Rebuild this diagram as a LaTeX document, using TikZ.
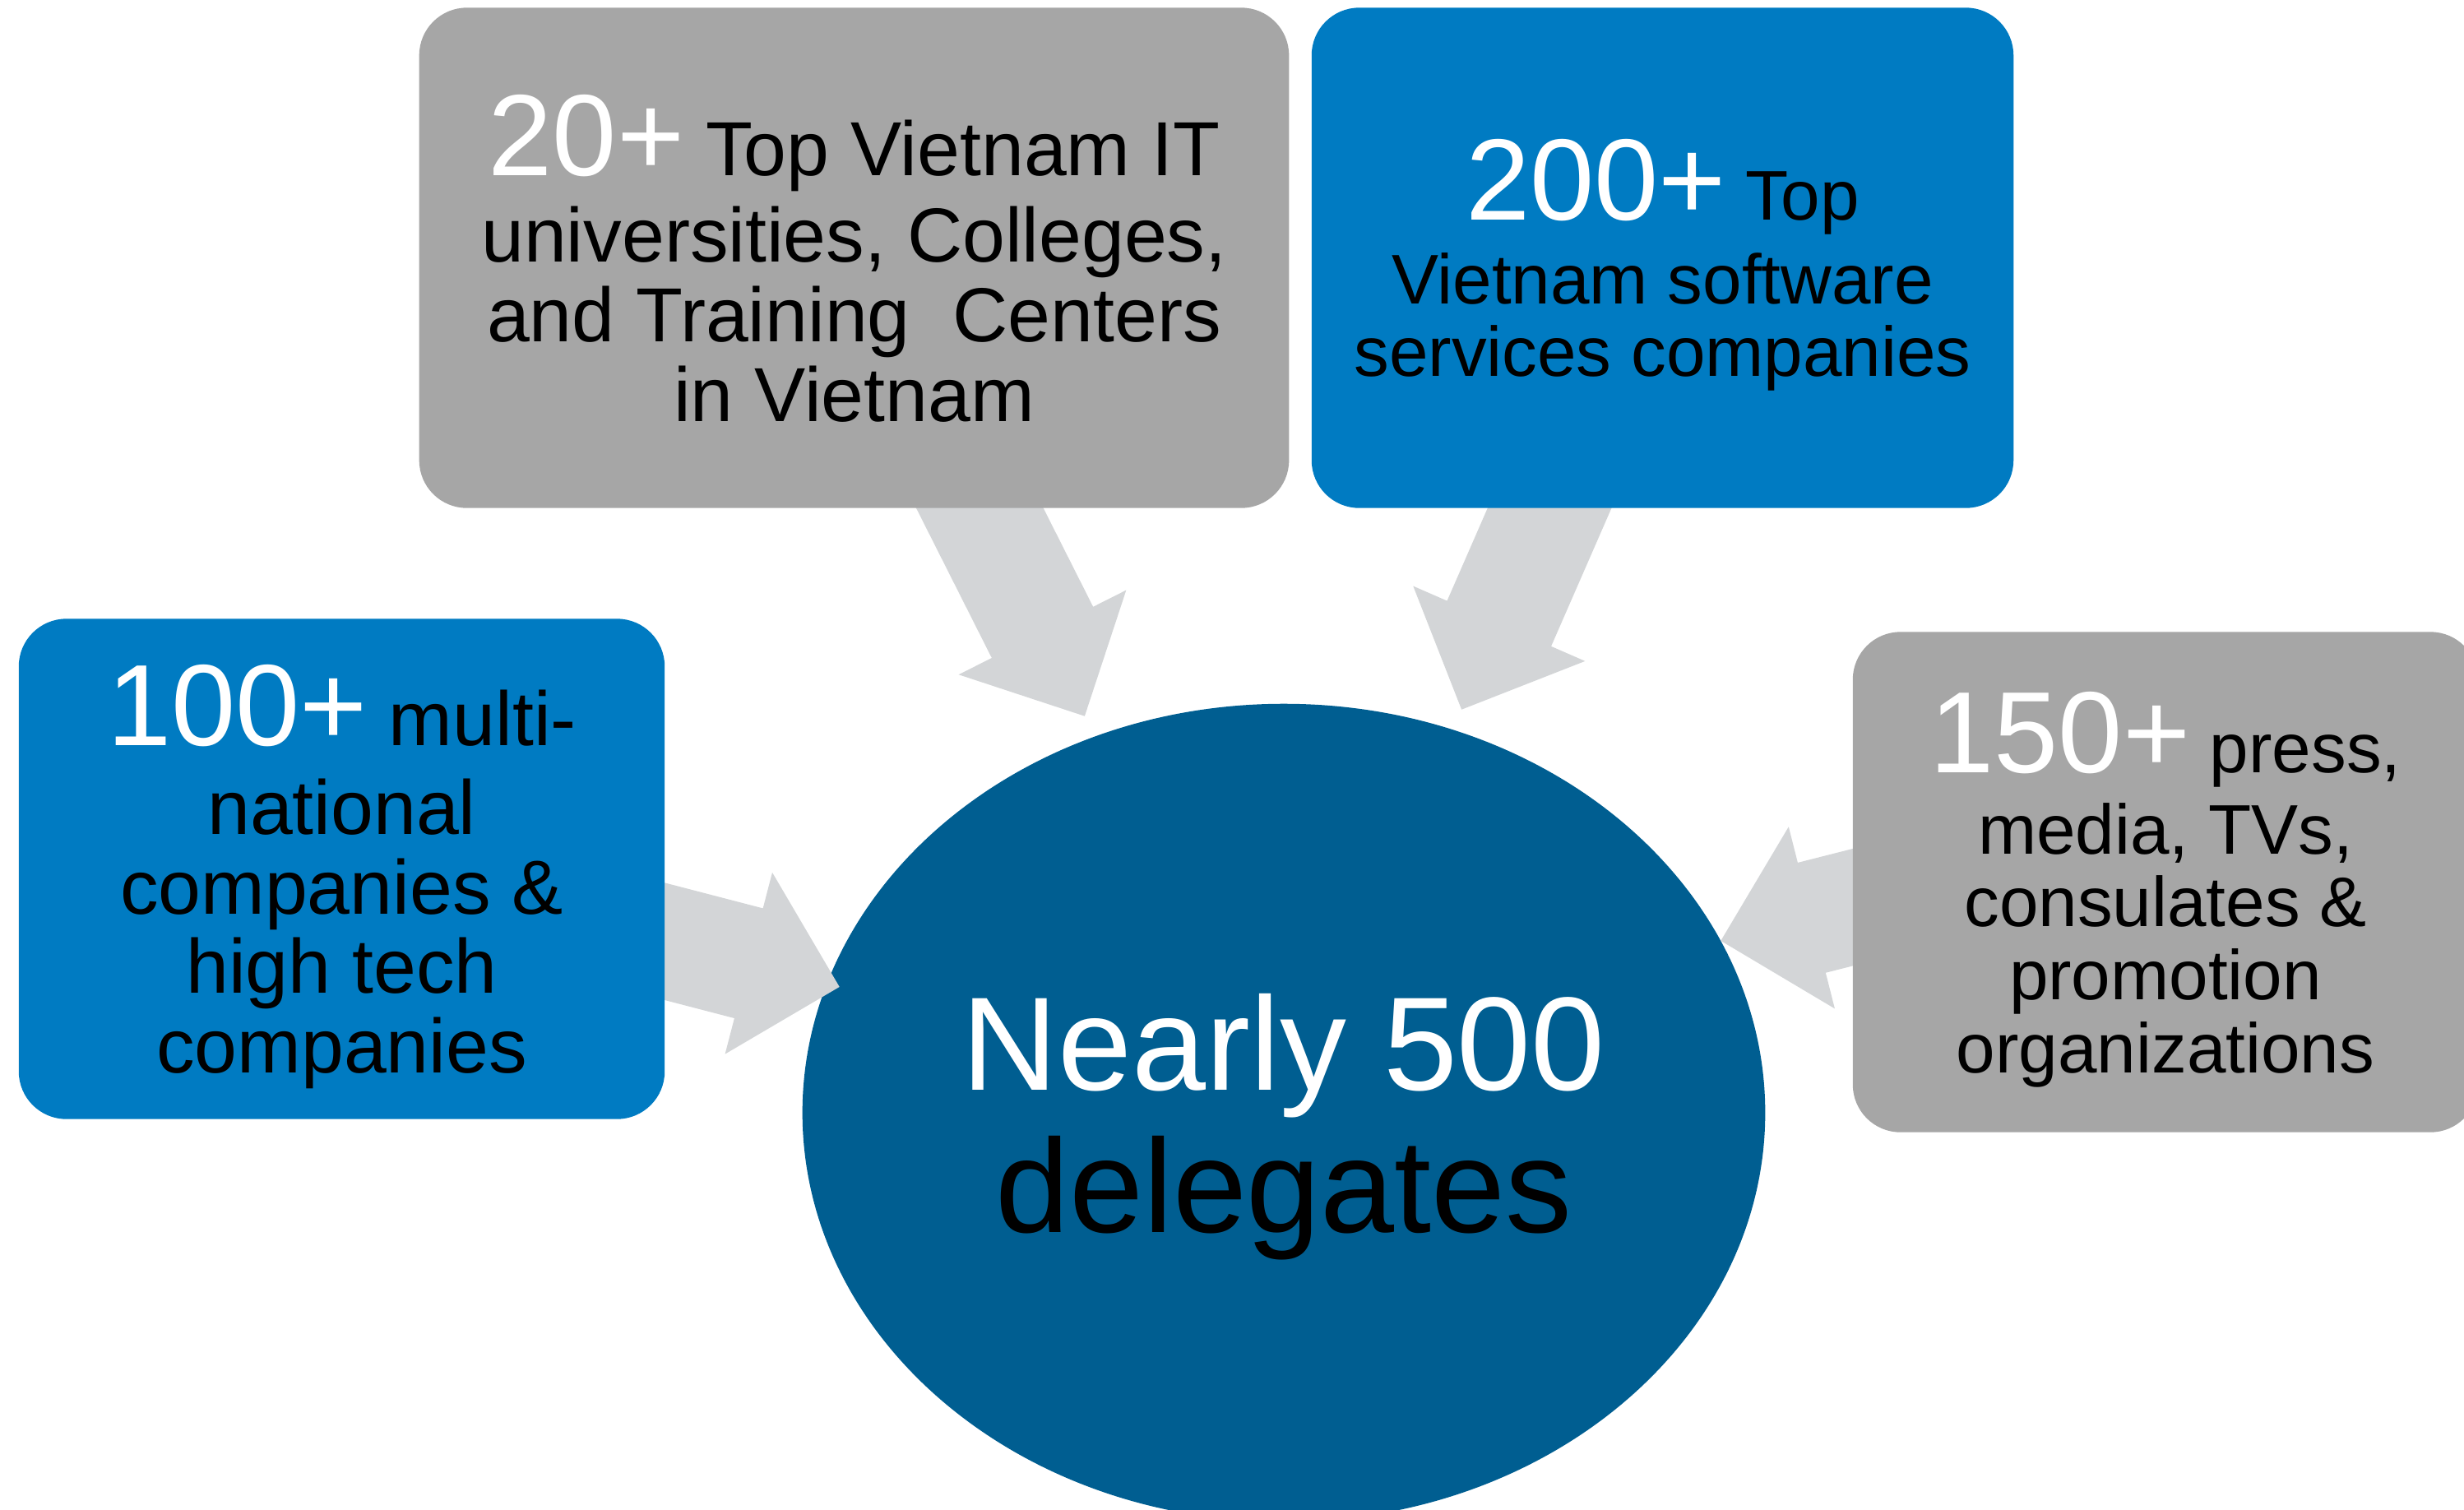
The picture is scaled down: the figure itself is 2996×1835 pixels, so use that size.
\documentclass[tikz,border=0pt]{standalone}
\usepackage{fontspec}
\setmainfont{Liberation Sans}
\usetikzlibrary{calc,shapes.geometric}
\pgfdeclarelayer{back}
\pgfdeclarelayer{mid}
\pgfsetlayers{back,mid,main}
\definecolor{boxgrey}{HTML}{A6A6A6}
\definecolor{boxblue}{HTML}{007BC2}
\definecolor{hubblue}{HTML}{005E91}
\definecolor{arrowgrey}{HTML}{D3D5D7}
% fat block arrow from #1 (tail) to #2 (tip)
\newcommand{\fatarrow}[2]{%
  \path ($(#2)!1.14cm!(#1)$) coordinate (neck);
  \fill[arrowgrey] ($(#1)!0.69cm!90:(#2)$) -- ($(neck)!0.69cm!90:(#2)$) -- ($(neck)!1.14cm!90:(#2)$) -- (#2)
    -- ($(neck)!1.14cm!-90:(#2)$) -- ($(neck)!0.69cm!-90:(#2)$) -- ($(#1)!0.69cm!-90:(#2)$) -- cycle;}
\newcommand{\bignum}[1]{{\fontsize{40}{40}\selectfont\color{white}#1}}
\begin{document}
\begin{tikzpicture}[
   x=0.01cm,y=-0.01cm,
   infobox/.style={rounded corners=0.58cm,inner sep=0pt,outer sep=0pt,minimum height=6.08cm,align=center,text depth=0pt},
   greybox/.style={infobox,fill=boxgrey},
   bluebox/.style={infobox,fill=boxblue},
   centre/.style={ellipse,fill=hubblue,inner sep=0pt,minimum width=11.7cm,minimum height=9.94cm,align=center,text depth=0pt,font=\fontsize{46}{49.2}\selectfont},
   largetext/.style={font=\fontsize{26.5}{27.5}\selectfont},
   smalltext/.style={font=\fontsize{24.3}{25.2}\selectfont}]
\clip (0,0) rectangle (2996,1835);
\begin{pgfonlayer}{back}
\node[centre] (hub) at (1561,1353) {{\color{white}Nearly 500}\\delegates};
\end{pgfonlayer}
\node[greybox,largetext,minimum width=10.57cm] (edu) at (1038.5,313.5) {\bignum{20+} Top Vietnam IT\\[0.09cm]universities, Colleges,\\and Training~ Centers\\in Vietnam};
\node[bluebox,smalltext,minimum width=8.53cm] (soft) at (2021.5,313.5) {\bignum{200+} Top\\[0.134cm]Vietnam software\\services companies};
\node[bluebox,largetext,minimum width=7.85cm] (mnc) at (415.5,1056.5) {\bignum{100+} multi-\\[0.113cm]national\\companies \&\\high tech\\companies};
\node[greybox,smalltext,minimum width=7.60cm] (media) at (2633,1072.5) {\bignum{150+} press,\\[0.104cm]media, TVs,\\consulates \&\\promotion\\organizations};
% arrow ends
\coordinate (eduTail) at ([xshift=1.315cm,yshift=0.42cm]edu.south);
\coordinate (softTail) at ([xshift=-1.185cm,yshift=0.43cm]soft.south);
\coordinate (mncTail) at ([xshift=-0.37cm,yshift=-0.785cm]mnc.east);
\coordinate (mediaTail) at ([xshift=0.36cm,yshift=-0.215cm]media.west);
\coordinate (eduTip) at ([xshift=-2.42cm,yshift=4.82cm]hub.center);
\coordinate (softTip) at ([xshift=2.16cm,yshift=4.90cm]hub.center);
\coordinate (mncTip) at ([xshift=-5.40cm,yshift=1.53cm]hub.center);
\coordinate (mediaTip) at ([xshift=5.31cm,yshift=2.09cm]hub.center);
\begin{pgfonlayer}{mid}
\fatarrow{eduTail}{eduTip}
\fatarrow{softTail}{softTip}
\fatarrow{mncTail}{mncTip}
\fatarrow{mediaTail}{mediaTip}
\end{pgfonlayer}
\end{tikzpicture}
\end{document}
